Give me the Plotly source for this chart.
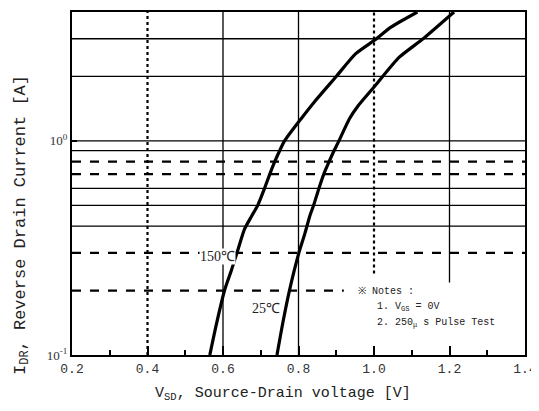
import plotly.graph_objects as go
import math

# Data
x150 = [0.565, 0.582, 0.604, 0.622, 0.640, 0.657, 0.676, 0.692, 0.710, 0.724, 0.737, 0.750,
        0.763, 0.807, 0.842, 0.900, 0.951, 1.002, 1.045, 1.115]
y150 = [0.10, 0.138, 0.20, 0.248, 0.312, 0.387, 0.446, 0.50, 0.60, 0.70, 0.80, 0.90,
        1.00, 1.27, 1.52, 2.00, 2.55, 2.96, 3.40, 4.0]
x25 = [0.743, 0.759, 0.776, 0.801, 0.817, 0.830, 0.840, 0.854, 0.867, 0.881, 0.894, 0.907,
       0.935, 0.958, 1.004, 1.067, 1.129, 1.212]
y25 = [0.10, 0.143, 0.20, 0.30, 0.37, 0.446, 0.50, 0.60, 0.70, 0.80, 0.90, 1.00,
       1.27, 1.46, 1.82, 2.46, 2.99, 4.0]

x_ticks = [0.2, 0.4, 0.6, 0.8, 1.0, 1.2, 1.4]
x_ticklabels = ["0.2", "0.4", "0.6", "0.8", "1.0", "1.2", "1.4"]
y_ticks = [0.1, 1.0]
y_ticklabels = ["10<sup>-1</sup>", "10<sup>0</sup>"]

h_grid = [0.2, 0.3, 0.4, 0.5, 0.6, 0.7, 0.8, 0.9, 1.0, 2.0, 3.0]
h_dashed = [True, True, False, False, False, True, True, False, False, False, False]
v_grid = [0.4, 0.6, 0.8, 1.0, 1.2]
v_dotted = [True, False, False, True, False]

X0, X1 = 0.2, 1.4
Y0, Y1 = 0.1, 4.0

fig = go.Figure()

shapes = []
for v, d in zip(h_grid, h_dashed):
    xend = 0.92 if v == 0.2 else X1
    shapes.append(dict(type="line", xref="x", yref="y", x0=X0, x1=xend, y0=v, y1=v,
                       line=dict(color="black", width=2.2 if d else 1.3, dash="dash" if d else "solid"),
                       layer="below"))
for v, d in zip(v_grid, v_dotted):
    ybot = Y0
    if v == 1.0:
        ybot = 0.24
    if v == 1.2:
        ybot = 0.218
    shapes.append(dict(type="line", xref="x", yref="y", x0=v, x1=v, y0=ybot, y1=Y1,
                       line=dict(color="black", width=2.2 if d else 1.3, dash="dot" if d else "solid"),
                       layer="below"))

for xs, ys in ((x150, y150), (x25, y25)):
    fig.add_trace(go.Scatter(x=xs, y=ys, mode="lines",
                             line=dict(color="black", width=3.2, shape="spline", smoothing=0.6),
                             showlegend=False, hoverinfo="skip"))

mono = "Liberation Mono"
serif = "Liberation Serif"

annotations = [
    dict(x=0.586, y=math.log10(0.288), xref="x", yref="y", text="150℃", showarrow=False,
         font=dict(family=serif, size=14, color="#222"), bgcolor="white", borderpad=0),
    dict(x=0.715, y=math.log10(0.165), xref="x", yref="y", text="25℃", showarrow=False,
         font=dict(family=serif, size=14, color="#222"), bgcolor="white", borderpad=0),
    dict(x=0.628, y=0.1855, xref="paper", yref="paper", xanchor="left", yanchor="middle",
         text="※ Notes :", showarrow=False, font=dict(family=mono, size=10, color="#222")),
    dict(x=0.668, y=0.139, xref="paper", yref="paper", xanchor="left", yanchor="middle",
         text="1. V<sub>GS</sub> = 0V", showarrow=False, font=dict(family=mono, size=10, color="#222")),
    dict(x=0.668, y=0.0928, xref="paper", yref="paper", xanchor="left", yanchor="middle",
         text="2. 250<sub>μ</sub> s Pulse Test", showarrow=False, font=dict(family=mono, size=10, color="#222")),
    dict(x=0.465, y=-0.113, xref="paper", yref="paper", xanchor="center", yanchor="middle",
         text="V<sub>SD</sub>, Source-Drain voltage [V]", showarrow=False,
         font=dict(family=mono, size=15, color="#222")),
    dict(x=-0.112, y=0.38, xref="paper", yref="paper", xanchor="center", yanchor="middle",
         text="I<sub>DR</sub>, Reverse Drain Current [A]", showarrow=False, textangle=-90,
         font=dict(family=mono, size=17, color="#222")),
]

fig.update_layout(
    width=531, height=395,
    margin=dict(l=64, r=13, t=2, b=48),
    plot_bgcolor="white", paper_bgcolor="white",
    shapes=shapes, annotations=annotations,
    showlegend=False,
    xaxis=dict(range=[X0, X1], tickvals=x_ticks, ticktext=x_ticklabels,
               showgrid=False, zeroline=False, showline=True, linecolor="black", linewidth=2, mirror=True,
               ticks="inside", ticklen=9, tickwidth=2, tickcolor="black", ticklabeloverflow="allow",
               minor=dict(dtick=0.1, ticks="inside", ticklen=5, tickwidth=2, tickcolor="black", showgrid=False),
               tickfont=dict(family=mono, size=13, color="#333")),
    yaxis=dict(type="log", range=[math.log10(Y0), math.log10(Y1)], tickvals=y_ticks, ticktext=y_ticklabels,
               showgrid=False, zeroline=False, showline=True, linecolor="black", linewidth=2, mirror=True,
               ticks="inside", ticklen=5, tickwidth=2, tickcolor="black",
               tickfont=dict(family=serif, size=13, color="#333")),
)

fig.write_html("out.html")
